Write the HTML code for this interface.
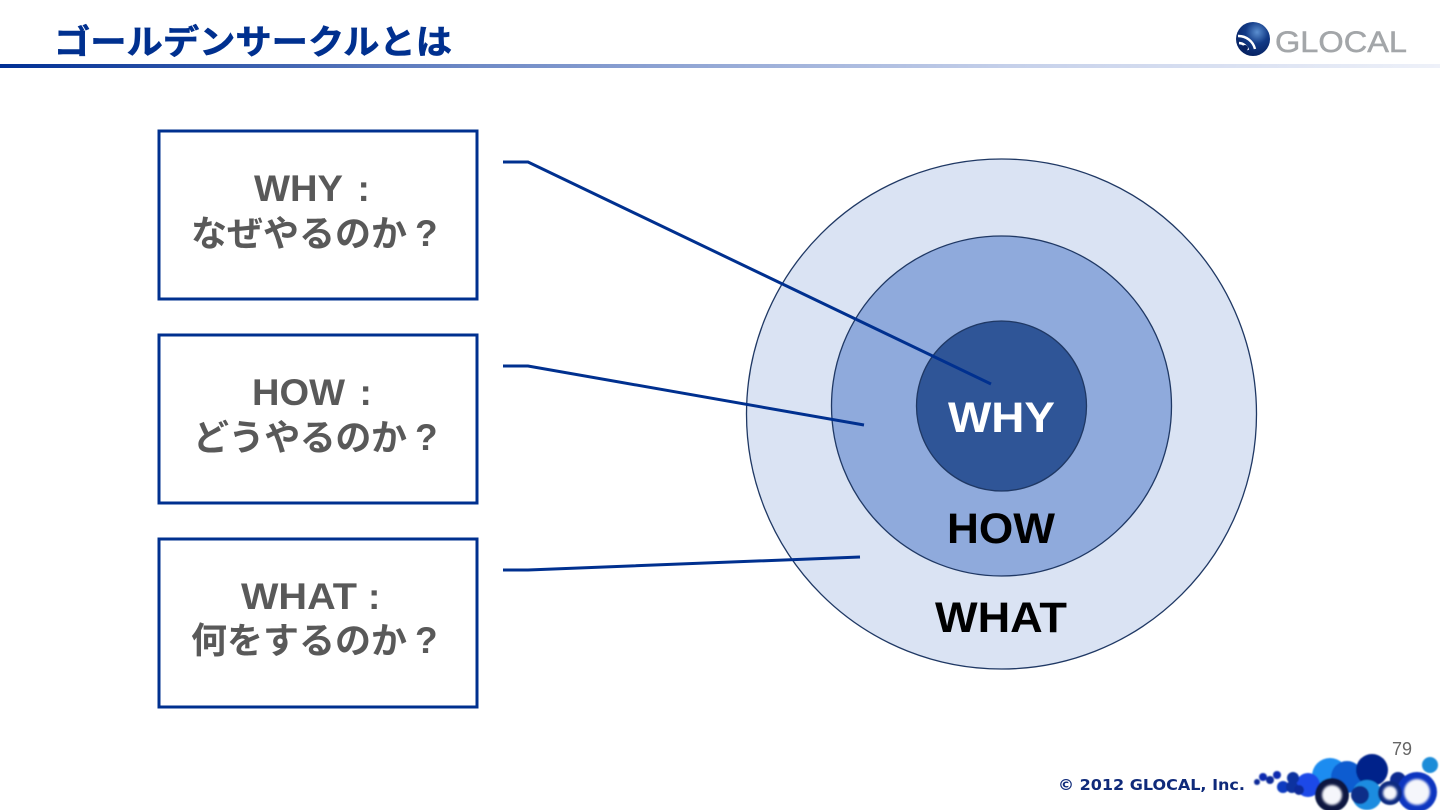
<!DOCTYPE html>
<html lang="ja"><head><meta charset="utf-8"><style>
html,body{margin:0;padding:0;background:#fff}
svg{display:block}
text{font-family:"Liberation Sans",sans-serif;font-weight:700}
.j{font-family:"Liberation Sans","Noto Sans CJK JP",sans-serif}
.d{font-family:"DejaVu Sans",sans-serif}
</style></head><body>
<svg width="1440" height="810" viewBox="0 0 1440 810" xmlns="http://www.w3.org/2000/svg">
<defs>
<linearGradient id="rule" x1="0" x2="1" y1="0" y2="0">
<stop offset="0" stop-color="#002f94"/><stop offset="0.33" stop-color="#6f8ac6"/><stop offset="0.7" stop-color="#c5d0ea"/><stop offset="1" stop-color="#eef1f9"/>
</linearGradient>
<radialGradient id="ball" cx="0.62" cy="0.3" r="0.75">
<stop offset="0" stop-color="#5b8fd0"/><stop offset="0.45" stop-color="#123a86"/><stop offset="1" stop-color="#06205f"/>
</radialGradient>
<filter id="b1" x="-5%" y="-20%" width="110%" height="140%"><feGaussianBlur stdDeviation="0.7"/></filter>
<filter id="b2" x="-40%" y="-40%" width="180%" height="180%"><feGaussianBlur stdDeviation="1.300"/></filter>
</defs>
<rect x="0" y="64" width="1440" height="4" fill="url(#rule)"/>
<text class="j" x="54" y="54" font-size="34" fill="#00308f" stroke="#00308f" stroke-width=".6" textLength="398" lengthAdjust="spacingAndGlyphs">ゴールデンサークルとは</text>

<circle cx="1253" cy="39" r="17" fill="url(#ball)"/>
<path d="M1238 36a17 17 0 0 1 17 13M1239 43a10 10 0 0 1 9 7" fill="none" stroke="#fff" stroke-width="2.400"/>
<circle cx="1245" cy="48" r="3" fill="#06205f"/>
<text x="1275" y="52" font-size="30" fill="#a3a6a9" stroke="#a3a6a9" stroke-width=".5" style="font-weight:400" textLength="132" lengthAdjust="spacingAndGlyphs">GLOCAL</text>

<g fill="#fff" stroke="#00308f" stroke-width="3">
<rect x="159" y="131" width="318" height="168"/>
<rect x="159" y="335" width="318" height="168"/>
<rect x="159" y="539" width="318" height="168"/>
</g>
<g fill="#595959" font-size="37">
<text x="254" y="201" textLength="89" lengthAdjust="spacingAndGlyphs">WHY</text>
<text x="357.500" y="201">:</text>
<text class="j" font-size="36" x="191" y="246" textLength="216" lengthAdjust="spacing">なぜやるのか</text>
<text x="415" y="246">?</text>
<text x="252" y="405" textLength="93" lengthAdjust="spacingAndGlyphs">HOW</text>
<text x="359.500" y="405">:</text>
<text class="j" font-size="36" x="193" y="450" textLength="214" lengthAdjust="spacing">どうやるのか</text>
<text x="415" y="450">?</text>
<text x="241" y="609" textLength="116" lengthAdjust="spacingAndGlyphs">WHAT</text>
<text x="368" y="609">:</text>
<text class="j" font-size="36" x="191" y="653" textLength="216" lengthAdjust="spacing">何をするのか</text>
<text x="415" y="653">?</text>
</g>

<circle cx="1001.500" cy="414" r="255" fill="#dae3f3" stroke="#1f3864" stroke-width="1.300"/>
<circle cx="1001.500" cy="406" r="170" fill="#8faadc" stroke="#1f3864" stroke-width="1.300"/>
<circle cx="1001.500" cy="406" r="85" fill="#2f5597" stroke="#1f3864" stroke-width="1.300"/>
<g font-size="43">
<text x="948" y="432" fill="#fff" textLength="107" lengthAdjust="spacingAndGlyphs">WHY</text>
<text x="947" y="543" fill="#000" textLength="108" lengthAdjust="spacingAndGlyphs">HOW</text>
<text x="935" y="632" fill="#000" textLength="132" lengthAdjust="spacingAndGlyphs">WHAT</text>
</g>

<g fill="none" stroke="#00308f" stroke-width="3">
<polyline points="503,162 528,162 991,384"/>
<polyline points="503,366 528,366 864,425"/>
<polyline points="503,570 528,570 860,557"/>
</g>

<text x="1402" y="755" font-size="18" fill="#666" text-anchor="middle" style="font-weight:400">79</text>
<text class="d" x="1058" y="790" font-size="15.500" fill="#0f2a7a" textLength="187" lengthAdjust="spacingAndGlyphs">© 2012 GLOCAL, Inc.</text>

<g filter="url(#b1)">
<circle cx="1330" cy="776" r="18" fill="#1a8cf0"/>
<circle cx="1430" cy="765" r="8" fill="#1a8cd8"/>
<circle cx="1347" cy="777" r="16" fill="#0a5bd0"/>
<circle cx="1372" cy="770" r="16" fill="#03208a"/>
<circle cx="1308" cy="785" r="12" fill="#1c4ae8"/>
<circle cx="1367" cy="795" r="15" fill="#1a8ce0"/>
<circle cx="1360" cy="795" r="9" fill="#0b2f88"/>
<circle cx="1293" cy="778" r="6" fill="#08309f"/>
<circle cx="1283" cy="787" r="6" fill="#0a3bc0"/>
<circle cx="1292" cy="787" r="6" fill="#08309f"/>
<circle cx="1299" cy="790" r="5" fill="#0a2c99"/>
<circle cx="1277" cy="775" r="4" fill="#0a2cb0"/>
<circle cx="1270" cy="780" r="4" fill="#0a2c99"/>
<circle cx="1263" cy="777" r="4" fill="#0a2cb0"/>
<circle cx="1257" cy="782" r="3" fill="#0a2c99"/>
<circle cx="1398" cy="780" r="8" fill="#0a2a90"/>
<circle cx="1417" cy="792" r="20" fill="#0a35c0"/>
<circle cx="1332" cy="795" r="17" fill="#07153f"/>
<circle cx="1390" cy="793" r="12" fill="#0a2a80"/>
</g>
<g filter="url(#b2)" fill="#f5f6fb">
<circle cx="1332" cy="795" r="10"/>
<circle cx="1390" cy="793" r="7"/>
<circle cx="1417" cy="792" r="13"/>
</g>
</svg>
</body></html>
